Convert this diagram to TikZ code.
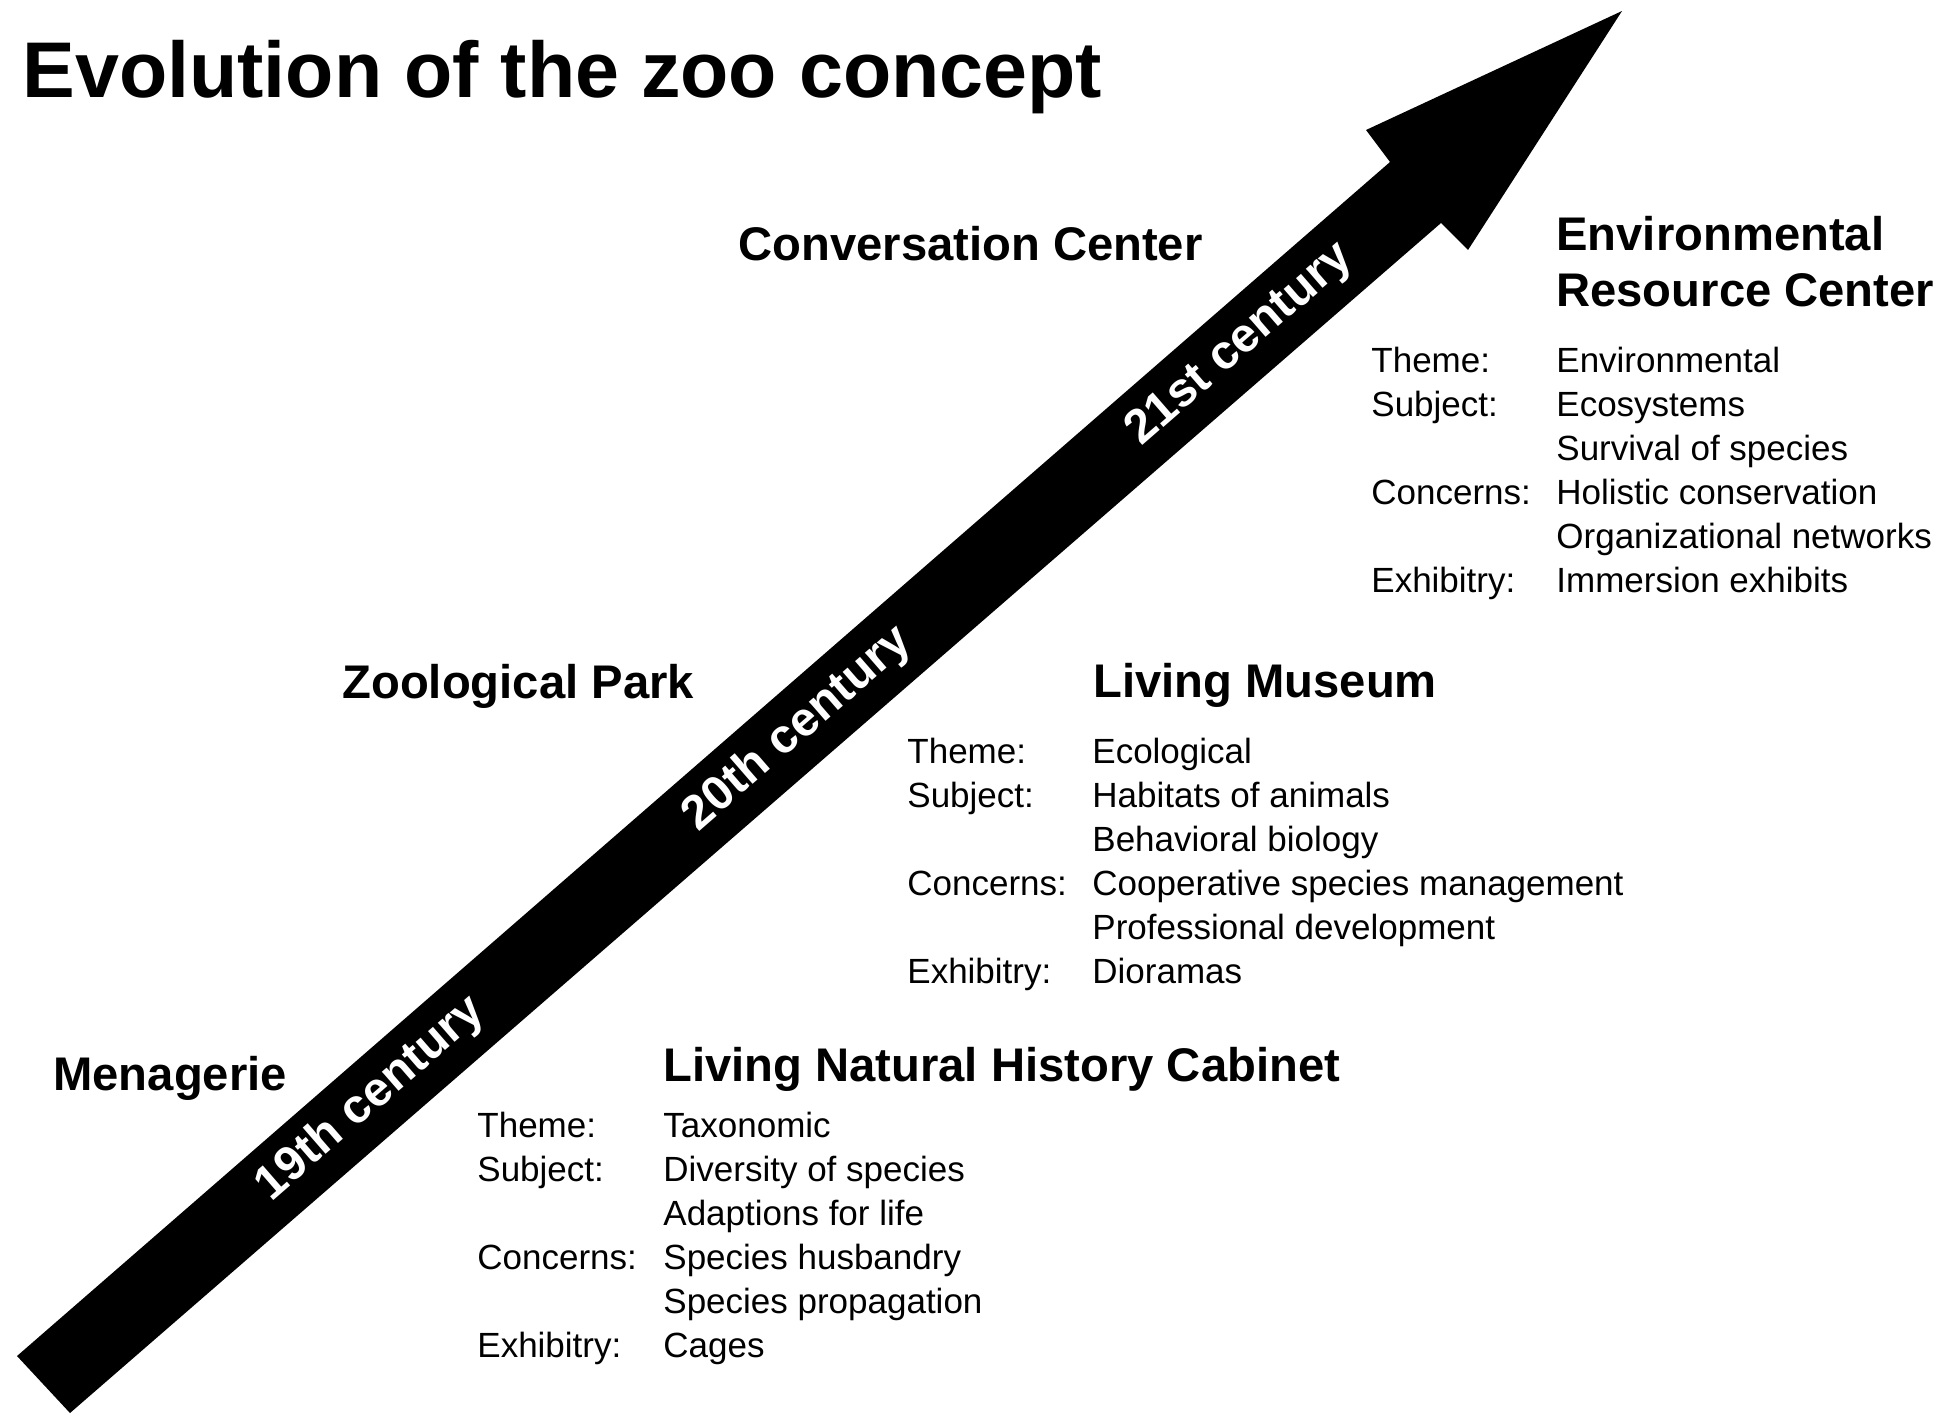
\documentclass[tikz,border=0pt]{standalone}
\usepackage{fontspec}
\setmainfont{Liberation Sans}
\begin{document}
\begin{tikzpicture}[x=0.5pt,y=-0.5pt,
  heading/.style={font=\fontsize{23.6}{28}\selectfont\bfseries, anchor=base west, inner sep=0pt},
  rowtxt/.style={font=\fontsize{17.5}{21}\selectfont, anchor=base west, inner sep=0pt},
  century/.style={font=\fontsize{24}{28}\selectfont\bfseries, text=white, rotate=41, inner sep=0pt},
]
\useasboundingbox (0,0) rectangle (1942,1414);
\fill[white] (0,0) rectangle (1942,1414);
% title
\node[font=\fontsize{39.5}{44}\selectfont\bfseries, anchor=base west, inner sep=0pt] (title) at (22,97) {Evolution of the zoo concept};
% big arrow
\fill[black] (17,1356) -- (70,1413) -- (1441,223) -- (1468,250) -- (1622,11) -- (1366,130) -- (1390,162) -- cycle;
% century labels
\node[century] (c19) at (371,1099) {19th century};
\node[century] (c20) at (798,729) {20th century};
\node[century] (c21) at (1240,345) {21st century};
% headings
\node[heading] (conv) at (738,260) {Conversation Center};
\node[heading] (env1) at (1556,250) {Environmental};
\node[heading] (env2) at (1556,306) {Resource Center};
\node[heading] (zoo) at (342,698) {Zoological Park};
\node[heading] (lm) at (1093,697) {Living Museum};
\node[heading] (men) at (53,1090) {Menagerie};
\node[heading] (lnhc) at (663,1081) {Living Natural History Cabinet};
% Environmental Resource Center block
\node[rowtxt] (eL1) at (1371,372) {Theme:};
\node[rowtxt] (eL2) at (1371,416) {Subject:};
\node[rowtxt] (eL3) at (1371,504) {Concerns:};
\node[rowtxt] (eL4) at (1371,592) {Exhibitry:};
\node[rowtxt] (eV1) at (1556,372) {Environmental};
\node[rowtxt] (eV2) at (1556,416) {Ecosystems};
\node[rowtxt] (eV3) at (1556,460) {Survival of species};
\node[rowtxt] (eV4) at (1556,504) {Holistic conservation};
\node[rowtxt] (eV5) at (1556,548) {Organizational networks};
\node[rowtxt] (eV6) at (1556,592) {Immersion exhibits};
% Living Museum block
\node[rowtxt] (mL1) at (907,763) {Theme:};
\node[rowtxt] (mL2) at (907,807) {Subject:};
\node[rowtxt] (mL3) at (907,895) {Concerns:};
\node[rowtxt] (mL4) at (907,983) {Exhibitry:};
\node[rowtxt] (mV1) at (1092,763) {Ecological};
\node[rowtxt] (mV2) at (1092,807) {Habitats of animals};
\node[rowtxt] (mV3) at (1092,851) {Behavioral biology};
\node[rowtxt] (mV4) at (1092,895) {Cooperative species management};
\node[rowtxt] (mV5) at (1092,939) {Professional development};
\node[rowtxt] (mV6) at (1092,983) {Dioramas};
% Living Natural History Cabinet block
\node[rowtxt] (nL1) at (477,1137) {Theme:};
\node[rowtxt] (nL2) at (477,1181) {Subject:};
\node[rowtxt] (nL3) at (477,1269) {Concerns:};
\node[rowtxt] (nL4) at (477,1357) {Exhibitry:};
\node[rowtxt] (nV1) at (663,1137) {Taxonomic};
\node[rowtxt] (nV2) at (663,1181) {Diversity of species};
\node[rowtxt] (nV3) at (663,1225) {Adaptions for life};
\node[rowtxt] (nV4) at (663,1269) {Species husbandry};
\node[rowtxt] (nV5) at (663,1313) {Species propagation};
\node[rowtxt] (nV6) at (663,1357) {Cages};
\end{tikzpicture}
\end{document}
